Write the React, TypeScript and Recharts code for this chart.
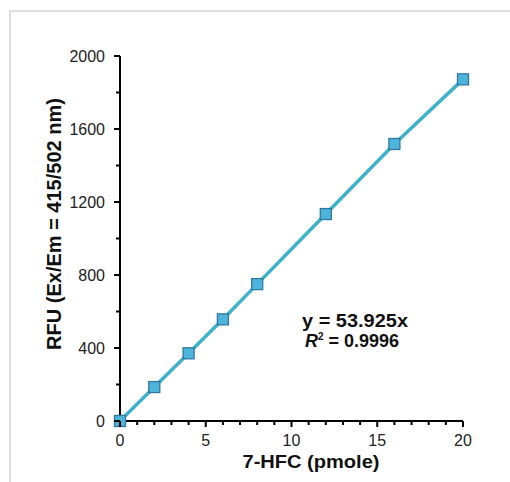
import React from "react";
import { LineChart, Line, XAxis, YAxis, Customized } from "recharts";

const pmoleValues = [0, 2, 4, 6, 8, 12, 16, 20];
const rfuValues = [0, 186, 371, 557, 750, 1134, 1518, 1872];
const xTicks = [0, 1, 2, 3, 4, 5, 6, 7, 8, 9, 10, 11, 12, 13, 14, 15, 16, 17, 18, 19, 20];
const xMajorTicks = [0, 5, 10, 15, 20];
const yTicks = [0, 200, 400, 600, 800, 1000, 1200, 1400, 1600, 1800, 2000];
const yMajorTicks = [0, 400, 800, 1200, 1600, 2000];
const xAxisTitle = "7-HFC (pmole)";
const yAxisTitle = "RFU (Ex/Em = 415/502 nm)";
const fitEquation = "y = 53.925x";
const fitR2 = "0.9996";

const data = pmoleValues.map((x, i) => ({ x, rfu: rfuValues[i] }));

const FONT = "'Liberation Sans', Arial, sans-serif";
const LINE_COLOR = "#3fb2cb";
const MARKER_FILL = "#4fb4dc";
const MARKER_STROKE = "#2f78a2";

const XTick = (props: any) => {
  const { x, y, payload } = props;
  const major = xMajorTicks.includes(payload.value);
  return (
    <g>
      <line x1={x} x2={x} y1={y} y2={y + (major ? 6 : 4)} stroke="#000" strokeWidth={2} />
      {major && (
        <text x={x} y={y + 25} textAnchor="middle" fontSize={16} fontFamily={FONT} fill="#222">
          {payload.value}
        </text>
      )}
    </g>
  );
};

const YTick = (props: any) => {
  const { x, y, payload } = props;
  const major = yMajorTicks.includes(payload.value);
  return (
    <g>
      <line x1={x} x2={x - (major ? 6 : 4)} y1={y} y2={y} stroke="#000" strokeWidth={2} />
      {major && (
        <text x={x - 15} y={y + 6} textAnchor="end" fontSize={16} fontFamily={FONT} fill="#222">
          {payload.value}
        </text>
      )}
    </g>
  );
};

const SquareDot = (props: any) => {
  const { cx, cy } = props;
  if (cx == null || cy == null) return null;
  const s = 11;
  return (
    <rect
      x={cx - s / 2}
      y={cy - s / 2}
      width={s}
      height={s}
      fill={MARKER_FILL}
      stroke={MARKER_STROKE}
      strokeWidth={1.3}
    />
  );
};

const Titles = () => (
  <g fontFamily={FONT} fontWeight="bold" fill="#111">
    <text x={311} y={468} textAnchor="middle" fontSize={19} textLength={137} lengthAdjust="spacingAndGlyphs">
      {xAxisTitle}
    </text>
    <text transform="translate(61, 224) rotate(-90)" textAnchor="middle" fontSize={20}>
      {yAxisTitle}
    </text>
    <text x={302} y={327} fontSize={18} textLength={106} lengthAdjust="spacingAndGlyphs">
      {fitEquation}
    </text>
    <text x={305} y={347} fontSize={18}>
      <tspan fontStyle="italic">R</tspan>
      <tspan fontSize={10} dy={-7}>2</tspan>
      <tspan dy={7}>{" = " + fitR2}</tspan>
    </text>
  </g>
);

export default function App() {
  return (
    <div style={{ position: "absolute", left: 0, top: 0, width: 510, height: 482, background: "#fff" }}>
      <div
        style={{
          position: "absolute",
          left: 9,
          top: 10,
          width: 501,
          height: 472,
          borderTop: "2px solid #dedede",
          borderLeft: "2px solid #dedede",
        }}
      />
      <div style={{ position: "absolute", left: 0, top: 0 }}>
        <LineChart
          width={510}
          height={482}
          data={data}
          margin={{ top: 56, right: 47, bottom: 21, left: 60 }}
        >
          <XAxis
            dataKey="x"
            type="number"
            domain={[0, 20]}
            ticks={xTicks}
            interval={0}
            tickSize={0}
            tickMargin={0}
            tickLine={false}
            axisLine={{ stroke: "#000", strokeWidth: 2 }}
            tick={<XTick />}
            height={40}
          />
          <YAxis
            type="number"
            domain={[0, 2000]}
            ticks={yTicks}
            interval={0}
            tickSize={0}
            tickMargin={0}
            tickLine={false}
            axisLine={{ stroke: "#000", strokeWidth: 2 }}
            tick={<YTick />}
            width={60}
          />
          <Line
            dataKey="rfu"
            type="linear"
            stroke={LINE_COLOR}
            strokeWidth={3.5}
            dot={<SquareDot />}
            activeDot={false}
            isAnimationActive={false}
          />
          <Customized component={Titles} />
        </LineChart>
      </div>
    </div>
  );
}
